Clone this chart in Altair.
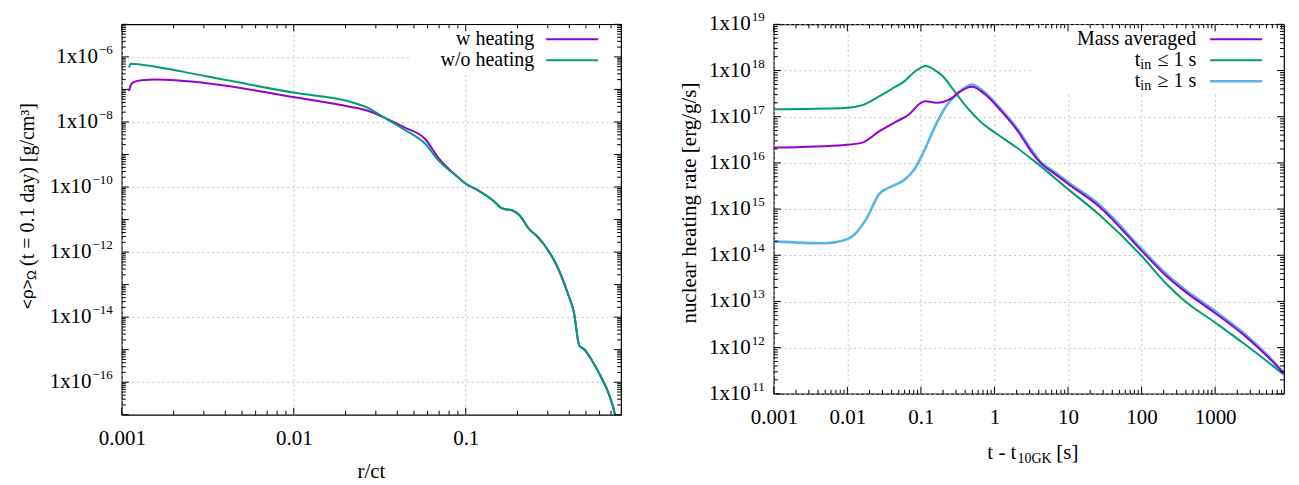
import math
import altair as alt
import pandas as pd

FONT = "Liberation Serif"
SANS = "Liberation Sans"

# ---------------- left panel data ----------------
W_HEAT_R = [0.00110, 0.00115, 0.0013, 0.0016, 0.00303, 0.0101, 0.0208, 0.027, 0.0336, 0.044,
            0.0577, 0.0707, 0.0906, 0.1, 0.118, 0.143, 0.163, 0.187, 0.204, 0.234, 0.262,
            0.283, 0.343, 0.393, 0.426, 0.457, 0.493, 0.545, 0.608, 0.679, 0.738, 0.76]
W_HEAT_RHO = [8.9e-8, 1.58e-7, 1.9e-7, 2.0e-7, 1.58e-7, 5.75e-8, 3.0e-8, 2.2e-8, 1.35e-8, 6.8e-9,
              3.1e-9, 6.9e-10, 1.95e-10, 1.26e-10, 7.9e-11, 4.0e-11, 2.2e-11, 1.9e-11, 1.4e-11, 5.1e-12, 2.9e-12,
              1.8e-12, 3.3e-13, 5.2e-14, 1.35e-14, 1.35e-15, 9.8e-16, 4.4e-16, 1.55e-16, 4.4e-17, 1.0e-17, 4.0e-18]
WO_HEAT_R = [0.00110, 0.00113, 0.0013, 0.00303, 0.0101, 0.0208, 0.027, 0.0336, 0.044,
             0.0577, 0.0707, 0.0906, 0.1, 0.118, 0.143, 0.163, 0.187, 0.204, 0.234, 0.262,
             0.283, 0.343, 0.393, 0.426, 0.457, 0.493, 0.545, 0.608, 0.679, 0.738, 0.76]
WO_HEAT_RHO = [4.7e-7, 6.2e-7, 5.75e-7, 2.6e-7, 7.85e-8, 4.3e-8, 2.7e-8, 1.35e-8, 5.75e-9,
               2.2e-9, 5.9e-10, 1.95e-10, 1.26e-10, 7.9e-11, 4.0e-11, 2.2e-11, 1.9e-11, 1.4e-11, 5.1e-12, 2.9e-12,
               1.8e-12, 3.3e-13, 5.2e-14, 1.35e-14, 1.35e-15, 9.8e-16, 4.4e-16, 1.55e-16, 4.4e-17, 1.0e-17, 4.0e-18]

LEFT_X_TICKS = [0.001, 0.01, 0.1]
LEFT_X_LABELS = ["0.001", "0.01", "0.1"]
LEFT_Y_TICKS = [1e-16, 1e-14, 1e-12, 1e-10, 1e-8, 1e-6]
LEFT_Y_BASES = ["1x10", "1x10", "1x10", "1x10", "1x10", "1x10"]
LEFT_Y_EXPONENTS = ["−16", "−14", "−12", "−10", "−8", "−6"]
LEFT_X_DOMAIN = [0.001, 0.8]
LEFT_Y_DOMAIN = [1e-17, 1e-5]

# ---------------- right panel data ----------------
T_IN_LE_T = [0.001, 0.0094, 0.016, 0.027, 0.040, 0.06, 0.083, 0.116, 0.151, 0.197, 0.292, 0.434,
             0.646, 1.02, 1.85, 3.59, 10.3, 26, 101, 215, 365, 995, 2642, 5117, 8640]
T_IN_LE_Q = [1.45e17, 1.55e17, 1.78e17, 2.75e17, 3.98e17, 5.9e17, 9.5e17, 1.26e18, 1.05e18, 7.6e17, 3.4e17, 1.51e17,
             7.8e16, 4.5e16, 2.35e16, 1.05e16, 2.6e15, 7.8e14, 9.5e13, 2.45e13, 1.1e13, 3.5e12, 1.12e12, 5.0e11, 2.6e11]
MASS_T = [0.001, 0.0094, 0.016, 0.027, 0.046, 0.068, 0.1, 0.116, 0.162, 0.256, 0.33, 0.495, 0.735, 1.25,
          2.15, 3.13, 4.1, 6.9, 10.3, 26, 101, 215, 365, 995, 2642, 5117, 8640]
MASS_Q = [2.15e16, 2.45e16, 2.75e16, 4.8e16, 7.8e16, 1.1e17, 2.0e17, 2.15e17, 2.0e17, 2.45e17, 3.4e17, 4.45e17, 3.1e17, 1.3e17,
          4.5e16, 1.8e16, 1.05e16, 5.5e15, 3.4e15, 1.17e15, 1.23e14, 3.6e13, 1.78e13, 5.6e12, 1.7e12, 6.5e11, 2.75e11]
T_IN_GE_T = [0.001, 0.005, 0.0094, 0.0123, 0.0182, 0.027, 0.040, 0.06, 0.083, 0.116, 0.151, 0.225, 0.33, 0.495,
             0.735, 1.25, 2.15, 3.13, 4.1, 6.9, 10.3, 26, 101, 215, 365, 995, 2642, 5117, 8640]
T_IN_GE_Q = [2.0e14, 1.82e14, 2.15e14, 2.75e14, 6.2e14, 2.1e15, 3.1e15, 4.3e15, 7.6e15, 2.15e16, 5.6e16, 1.78e17, 3.4e17, 5.0e17,
             3.4e17, 1.4e17, 4.9e16, 2.0e16, 1.12e16, 6.0e15, 3.7e15, 1.29e15, 1.35e14, 4.0e13, 1.95e13, 6.2e12, 1.86e12, 6.9e11, 2.8e11]

RIGHT_X_TICKS = [0.001, 0.01, 0.1, 1, 10, 100, 1000]
RIGHT_X_LABELS = ["0.001", "0.01", "0.1", "1", "10", "100", "1000"]
RIGHT_Y_TICKS = [1e11, 1e12, 1e13, 1e14, 1e15, 1e16, 1e17, 1e18, 1e19]
RIGHT_Y_BASES = ["1x10"] * 9
RIGHT_Y_EXPONENTS = ["11", "12", "13", "14", "15", "16", "17", "18", "19"]
RIGHT_X_DOMAIN = [0.001, 8640]
RIGHT_Y_DOMAIN = [1e11, 1e19]

PURPLE = "#9400d3"
GREEN = "#009e73"
BLUE = "#56b4e9"

ONE = pd.DataFrame({"a": [0]})
LABEL_SIZE = 21
EXP_SIZE = 13


def label_expr(ticks, labels):
    parts = []
    for t, l in zip(ticks, labels):
        e = round(math.log10(t))
        parts.append(f"round(log(datum.value)/LN10) == {e} ? '{l}' : ")
    return "".join(parts) + "''"


def decades(lo, hi):
    return [10.0 ** e for e in range(lo, hi + 1)]


def minors(lo, hi, vmax):
    out = []
    for e in range(lo, hi + 1):
        for m in range(2, 10):
            v = m * 10.0 ** e
            if v < vmax:
                out.append(v)
    return out


def tick_layers(xvals_major, xvals_minor, yvals_major, yvals_minor, xs, ys, xaxis, yaxis, W, H, LM=7, Lm=4):
    layers = []
    for vals, L in ((xvals_major, LM), (xvals_minor, Lm)):
        base = alt.Chart(pd.DataFrame({"v": vals})).mark_rule(color="black", strokeWidth=1)
        xe = alt.X("v:Q", scale=xs, axis=xaxis)
        layers.append(base.encode(x=xe, y=alt.value(H), y2=alt.value(H - L)))
        layers.append(base.encode(x=xe, y=alt.value(0), y2=alt.value(L)))
    for vals, L in ((yvals_major, LM), (yvals_minor, Lm)):
        base = alt.Chart(pd.DataFrame({"v": vals})).mark_rule(color="black", strokeWidth=1)
        ye = alt.Y("v:Q", scale=ys, axis=yaxis)
        layers.append(base.encode(y=ye, x=alt.value(0), x2=alt.value(L)))
        layers.append(base.encode(y=ye, x=alt.value(W), x2=alt.value(W - L)))
    return layers


def exp_width(s):
    return sum(0.564 * EXP_SIZE if c == "−" else 0.5 * EXP_SIZE for c in s)


def ylabel_layers(ticks, bases, exps, ys, yaxis, gap=9):
    groups = {}
    for t, b, e in zip(ticks, bases, exps):
        groups.setdefault(round(exp_width(e), 1), []).append((t, b, e))
    layers = []
    for w, items in groups.items():
        df = pd.DataFrame({"v": [i[0] for i in items], "base": [i[1] for i in items], "exp": [i[2] for i in items]})
        ye = alt.Y("v:Q", scale=ys, axis=yaxis)
        layers.append(alt.Chart(df).mark_text(font=FONT, fontSize=LABEL_SIZE, align="right", baseline="middle",
                                              color="black").encode(y=ye, x=alt.value(-gap - w - 1), text="base:N"))
        layers.append(alt.Chart(df).mark_text(font=FONT, fontSize=EXP_SIZE, align="right", baseline="middle",
                                              dy=-7, color="black").encode(y=ye, x=alt.value(-gap), text="exp:N"))
    return layers


def txt(t, x, y, size=21, align="center", baseline="middle", angle=0, font=FONT):
    return alt.Chart(ONE).mark_text(text=t, font=font, fontSize=size, align=align,
                                    baseline=baseline, angle=angle, color="black").encode(
        x=alt.value(x), y=alt.value(y))


def rect(x, x2, y, y2):
    return alt.Chart(ONE).mark_rect(fill="white", strokeWidth=0).encode(
        x=alt.value(x), x2=alt.value(x2), y=alt.value(y), y2=alt.value(y2))


def sample(x, x2, y, color, w=2):
    return alt.Chart(ONE).mark_rule(color=color, strokeWidth=w).encode(
        x=alt.value(x), x2=alt.value(x2), y=alt.value(y))


def line(xs_vals, ys_vals, xs, ys, color, xaxis, yaxis, w=2):
    df = pd.DataFrame({"x": xs_vals, "y": ys_vals})
    return alt.Chart(df).mark_line(color=color, strokeWidth=w, clip=True, interpolate="monotone").encode(
        x=alt.X("x:Q", scale=xs, axis=xaxis), y=alt.Y("y:Q", scale=ys, axis=yaxis))


def xaxis_for(ticks, labels):
    return alt.Axis(values=ticks, labelExpr=label_expr(ticks, labels), grid=True, title=None,
                    labelPadding=13, labelFlush=False, labelOverlap=False)


def yaxis_for(ticks):
    return alt.Axis(values=ticks, labels=False, grid=True, title=None)


# ---------------- left panel ----------------
LW, LH = 500, 391
lxs = alt.Scale(type="log", domain=LEFT_X_DOMAIN, nice=False)
lys = alt.Scale(type="log", domain=LEFT_Y_DOMAIN, nice=False)
lxaxis = xaxis_for(LEFT_X_TICKS, LEFT_X_LABELS)
lyaxis = yaxis_for(LEFT_Y_TICKS)

left_layers = [
    rect(289, LW - 1, 1, 50),
    line(W_HEAT_R, W_HEAT_RHO, lxs, lys, PURPLE, lxaxis, lyaxis),
    line(WO_HEAT_R, WO_HEAT_RHO, lxs, lys, GREEN, lxaxis, lyaxis),
]
left_layers += tick_layers(decades(-3, -1), minors(-3, -1, 0.8), decades(-17, -5), minors(-17, -6, 1e-5),
                           lxs, lys, lxaxis, lyaxis, LW, LH)
left_layers += ylabel_layers(LEFT_Y_TICKS, LEFT_Y_BASES, LEFT_Y_EXPONENTS, lys, lyaxis)
left_layers += [
    txt("w heating", 413, 15, size=20, align="right"),
    sample(425, 477, 15, PURPLE),
    txt("w/o heating", 413, 36, size=20, align="right"),
    sample(425, 477, 36, GREEN),
    txt("r/ct", 250, 448),
    txt("<ρ>", -94, 285, size=17, align="left", angle=270, font=SANS),
    txt("Ω", -90, 256, size=13, align="left", angle=270, font=SANS),
    txt("(t = 0.1 day) [g/cm³]", -94, 242, size=20, align="left", angle=270),
]
left = alt.layer(*left_layers).properties(width=LW, height=LH)

# ---------------- right panel ----------------
RW, RH = 511, 370
rxs = alt.Scale(type="log", domain=RIGHT_X_DOMAIN, nice=False)
rys = alt.Scale(type="log", domain=RIGHT_Y_DOMAIN, nice=False)
rxaxis = xaxis_for(RIGHT_X_TICKS, RIGHT_X_LABELS)
ryaxis = yaxis_for(RIGHT_Y_TICKS)

right_layers = [
    rect(261, RW - 1, 1, 68),
    line(T_IN_LE_T, T_IN_LE_Q, rxs, rys, GREEN, rxaxis, ryaxis),
    line(T_IN_GE_T, T_IN_GE_Q, rxs, rys, BLUE, rxaxis, ryaxis, w=2.6),
    line(MASS_T, MASS_Q, rxs, rys, PURPLE, rxaxis, ryaxis),
]
right_layers += tick_layers(decades(-3, 3), minors(-3, 3, 8640), decades(11, 19), minors(11, 18, 1e19),
                            rxs, rys, rxaxis, ryaxis, RW, RH)
right_layers += ylabel_layers(RIGHT_Y_TICKS, RIGHT_Y_BASES, RIGHT_Y_EXPONENTS, rys, ryaxis)
right_layers += [
    txt("Mass averaged", 423, 15, size=20, align="right"),
    sample(437, 489, 15, PURPLE),
    txt("≤ 1 s", 423, 36, size=20, align="right"),
    txt("in", 378, 41, size=14, align="right"),
    txt("t", 367, 36, size=20, align="right"),
    sample(437, 489, 36, GREEN),
    txt("≥ 1 s", 423, 57, size=20, align="right"),
    txt("in", 378, 62, size=14, align="right"),
    txt("t", 367, 57, size=20, align="right"),
    sample(437, 489, 57, BLUE, w=2.6),
    txt("t - t", 243, 429, align="right"),
    txt("10GK", 244, 435, size=14, align="left"),
    txt("[s]", 283, 429, align="left"),
    txt("nuclear heating rate [erg/g/s]", -84, 179, size=21, angle=270),
]
right = alt.layer(*right_layers).properties(width=RW, height=RH)

chart = alt.hconcat(left, right, spacing=153, bounds="flush").properties(
    padding={"left": 9, "top": 2, "right": 5, "bottom": 0}
).configure_view(stroke="black", strokeWidth=1.2).configure_axis(
    labelFont=FONT, labelFontSize=LABEL_SIZE, labelColor="black", domain=False, ticks=False,
    gridDash=[2, 3], gridColor="#c4c4c4", gridWidth=1
)

chart.save("out.html", embed_options={"renderer": "svg", "actions": False})
